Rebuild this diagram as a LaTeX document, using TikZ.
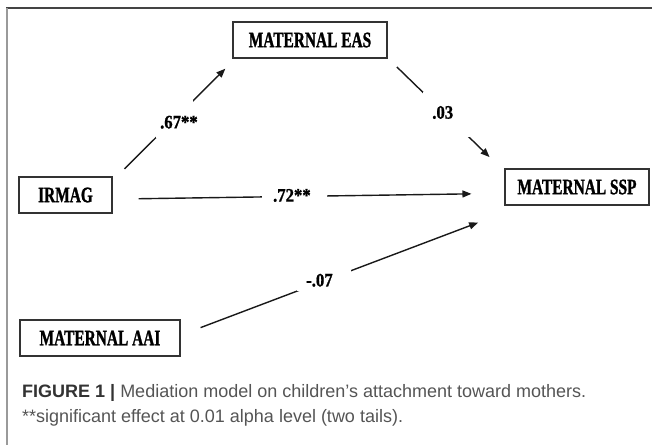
\documentclass[tikz,border=0pt]{standalone}
\usepackage{fontspec}
\setmainfont{Liberation Serif}
\newfontfamily\boxfont{Liberation Serif}[FakeStretch=0.7, FakeBold=1.2]
\newfontfamily\coeffont{Liberation Serif}[FakeStretch=0.88, FakeBold=1]
\newfontfamily\capfont{Liberation Sans}
\usetikzlibrary{arrows.meta}
\definecolor{framedark}{HTML}{444444}
\definecolor{frameleft}{HTML}{9A9A9A}
\definecolor{capbold}{HTML}{333333}
\definecolor{captext}{HTML}{555555}
\begin{document}
\begin{tikzpicture}[x=1pt,y=-1pt,
  varbox/.style={draw=black!80, line width=1.1pt, minimum height=36pt, inner sep=0pt,
    font=\boxfont\bfseries\fontsize{22}{22}\selectfont},
  link/.style={line width=1.4pt, draw=black!90, -{Triangle[length=9pt,width=7pt]}},
  gapbox/.style={fill=white, inner sep=0pt},
  coef/.style={inner sep=0pt, font=\coeffont\bfseries\fontsize{19}{19}\selectfont},
  captxt/.style={anchor=base west, inner sep=0pt, font=\capfont\fontsize{18}{26}\selectfont, text=captext}]
\useasboundingbox (0,0) rectangle (652,445);
\fill[white] (0,0) rectangle (652,445);
\draw[framedark, line width=1.3pt] (6,8) -- (652,8);
\draw[frameleft, line width=1.5pt] (7,8) -- (7,445);

\node[varbox, minimum width=154pt] (eas) at (310,40) {MATERNAL EAS};
\node[varbox, minimum width=93pt] (irmag) at (65.5,195) {IRMAG};
\node[varbox, minimum width=144pt] (ssp) at (577,187) {MATERNAL SSP};
\node[varbox, minimum width=160pt] (aai) at (100,338) {MATERNAL AAI};

\draw[link, shorten <=16.7pt, shorten >=14.4pt] (irmag.17) --
  node[gapbox, minimum width=37pt, minimum height=38pt, pos=0.503] (g1) {} (eas.194);
\draw[link, shorten <=13pt, shorten >=20.8pt] (eas.-13.4) --
  node[gapbox, minimum width=47pt, minimum height=45pt, pos=0.502] (g2) {} (ssp.168.5);
\draw[link, shorten <=26pt, shorten >=33pt] (irmag.-5.4) --
  node[gapbox, minimum width=65pt, minimum height=14pt, pos=0.464] (g3) {} (ssp.185.2);
\draw[link, shorten <=21.4pt, shorten >=48.1pt] (aai.2) --
  node[gapbox, minimum width=54pt, minimum height=21pt, pos=0.42] (g4) {} (ssp.199);

\node[coef] (c1) at ([shift={(4.5,3)}]g1.center) {.67**};
\node[coef] (c2) at ([shift={(-3.5,-2.5)}]g2.center) {.03};
\node[coef] (c3) at ([shift={(-2.5,-1)}]g3.center) {.72**};
\node[coef] (c4) at ([shift={(-5,-0.5)}]g4.center) {-.07};

\node[captxt] (cap1) at (22,397) {\textcolor{capbold}{\bfseries FIGURE 1 |} Mediation model on children’s attachment toward mothers.};
\node[captxt] (cap2) at (22,422) {**significant effect at 0.01 alpha level (two tails).};
\end{tikzpicture}
\end{document}
